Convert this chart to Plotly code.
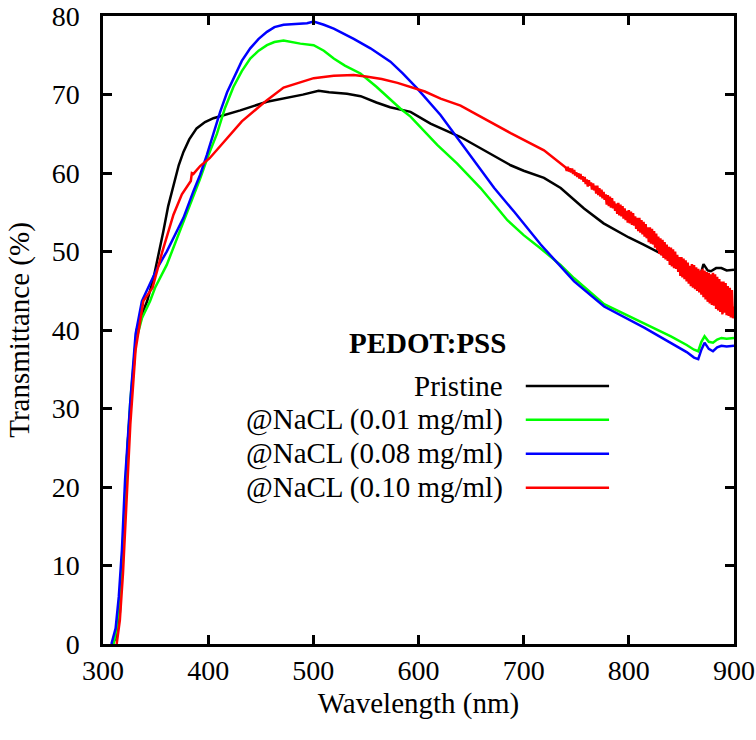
import plotly.graph_objects as go

# ---------------- data ----------------
pristine_x = [309, 313, 316, 318, 321, 323.5, 326, 329, 332, 337, 342, 348, 353, 357.4, 362, 367, 372, 376.5, 382,
              389, 397, 405, 418, 430.5, 455.9, 471, 490, 505, 515, 532, 545, 560, 573, 592.4, 611.4, 640, 659,
              687.6, 700, 719.3, 735.2, 757.4, 776, 800, 814, 840, 855, 864, 868, 871, 875, 878, 883, 888, 893, 900]
pristine_y = [0, 1, 4, 10, 20, 25.5, 30, 35.5, 40, 42, 43.7, 46.6, 49.6, 52.6, 55.8, 58.5, 61.0, 62.7, 64.3,
              65.7, 66.5, 67.0, 67.5, 68.0, 69.1, 69.5, 70.0, 70.5, 70.3, 70.1, 69.8, 69.0, 68.4, 67.8, 66.3, 64.6, 63.2,
              61.0, 60.3, 59.4, 58.1, 55.5, 53.6, 51.8, 50.9, 49.1, 47.8, 46.6, 47.0, 48.4, 47.6, 47.5, 47.9, 47.9, 47.6, 47.7]

nacl001_x = [310, 313, 316, 319, 322, 326, 331, 337, 344.8, 349.5, 360.6, 373.3, 384, 392.4, 400, 408.3, 416,
             424.1, 432, 440, 448, 455.9, 463, 471.7, 487.6, 500.3, 510, 519.4, 530, 544.8, 560, 582.9, 592.4,
             617.8, 636.8, 649.5, 659, 676.5, 684.5, 700, 716.2, 735, 748, 776.5, 795, 814.6, 840, 855, 862, 866, 869,
             872, 876, 880, 884, 888, 893, 900]
nacl001_y = [0, 2, 6, 13, 22, 31, 38.5, 41.5, 43.7, 45.4, 48.3, 52.6, 56.4, 59.3, 62.2, 65.0, 68.3,
             71.0, 73.0, 74.6, 75.6, 76.3, 76.7, 76.9, 76.5, 76.3, 75.6, 74.6, 73.7, 72.7, 71.0, 68.2, 67.2,
             63.6, 61.2, 59.4, 58.1, 55.3, 54.0, 52.1, 50.4, 48.3, 46.6, 43.3, 42.1, 40.9, 39.2, 38.1, 37.5, 37.3, 38.5,
             39.2, 38.5, 38.4, 38.8, 39.0, 38.9, 39.0]

nacl008_x = [308, 312, 315, 318, 321, 326, 331, 337, 345, 352, 360.6, 367, 376.5, 386, 392.4, 398.7, 405, 411.4, 418,
             424.1, 432, 440, 448, 455.9, 463, 471.7, 487.6, 494, 500.3, 510, 519.4, 525.7, 538.4, 554.3, 573.3,
             585, 598.7, 620.9, 633.6, 655.9, 672, 690.8, 716.2, 748, 776.5, 814.6, 840, 855, 862, 866, 869, 872, 876, 880,
             884, 888, 893, 900]
nacl008_y = [0, 2, 6, 12, 21, 31, 39.5, 43.7, 46, 48, 50.0, 51.7, 54.3, 57.7, 59.8, 62.3, 65.0, 67.8, 70.3,
             72.1, 74.3, 75.9, 77.1, 78.0, 78.6, 78.9, 79.0, 79.1, 79.3, 78.9, 78.4, 78.0, 77.1, 75.9, 74.2,
             72.7, 70.8, 67.4, 65.1, 61.0, 58.1, 55.1, 50.9, 46.2, 43.0, 40.3, 38.4, 37.2, 36.5, 36.3, 37.5, 38.4, 37.6, 37.3,
             37.8, 38.0, 37.9, 38.0]

nacl010_x = [313, 316, 319, 322, 326, 331, 338.4, 347.1, 356, 367, 375, 383.5, 384.5, 386, 392.4, 401.4, 410,
             420.2, 432, 446.2, 455.9, 471.7, 487.6, 500.3, 519.4, 538.4, 550, 565, 580, 592.4, 606, 621, 640, 659,
             687.6, 719.3, 730] + list(range(740, 901))
nacl010_y = [0, 3, 9, 18, 28, 37.5, 43.7, 45.4, 49.8, 54.7, 57.3, 59.0, 60.0, 59.9, 60.9, 61.9, 63.2,
             64.8, 66.6, 68.2, 69.3, 70.9, 71.6, 72.1, 72.4, 72.5, 72.3, 72.0, 71.5, 71.0, 70.4, 69.5, 68.6, 67.2,
             65.1, 62.9, 61.8,
             60.7, 60.3, 60.8, 60.2, 60.6, 60.1, 60.6, 59.9, 60.4, 59.7,
             60.1, 59.5, 60.0, 59.3, 59.9, 59.2, 59.6, 58.9, 59.5, 58.6,
             59.2, 58.3, 59.1, 58.4, 58.8, 57.9, 58.7, 57.8, 58.4, 57.4,
             58.4, 57.2, 58.1, 57.0, 57.9, 56.8, 57.6, 56.6, 57.3, 56.0,
             57.2, 55.8, 57.0, 55.6, 56.8, 55.5, 56.4, 55.2, 56.1, 54.8,
             56.2, 54.6, 56.0, 54.5, 55.8, 54.2, 55.5, 54.0, 55.2, 53.7,
             55.3, 53.6, 55.1, 53.4, 54.9, 53.3, 54.5, 52.9, 54.3, 52.6,
             54.3, 52.4, 54.0, 52.2, 53.8, 51.9, 53.5, 51.7, 53.1, 51.2,
             53.1, 51.0, 52.9, 50.9, 52.6, 50.5, 52.3, 50.2, 51.9, 49.7,
             51.7, 49.5, 51.5, 49.2, 51.2, 49.0, 50.9, 48.8, 50.6, 48.3,
             50.5, 48.1, 50.3, 47.9, 50.0, 47.8, 49.6, 47.4, 49.3, 46.9,
             49.3, 46.7, 49.1, 46.5, 48.9, 46.2, 48.6, 45.9, 48.2, 45.6,
             48.4, 45.4, 48.3, 45.2, 48.0, 45.0, 47.8, 44.8, 47.6, 44.5,
             47.8, 44.2, 47.6, 43.9, 47.4, 43.6, 47.3, 43.4, 47.1, 43.2,
             47.3, 43.1, 47.1, 42.7, 46.8, 42.5, 46.5, 42.3, 46.2, 42.0,
             46.2, 42.2, 46.0, 41.9, 45.6, 41.8, 45.4, 41.6, 45.1, 41.5,
             43.0]

series_names = ["Pristine", "@NaCL (0.01 mg/ml)", "@NaCL (0.08 mg/ml)", "@NaCL (0.10 mg/ml)"]
series_colors = ["#000000", "#00ff00", "#0000ff", "#ff0000"]
legend_title = "PEDOT:PSS"
x_ticks = [300, 400, 500, 600, 700, 800, 900]
y_ticks = [0, 10, 20, 30, 40, 50, 60, 70, 80]
x_title = "Wavelength (nm)"
y_title = "Transmittance (%)"

# ---------------- figure ----------------
FONT = "Liberation Serif"
fig = go.Figure()
data = [(pristine_x, pristine_y), (nacl001_x, nacl001_y), (nacl008_x, nacl008_y), (nacl010_x, nacl010_y)]
for (xs, ys), name, col in zip(data, series_names, series_colors):
    fig.add_trace(go.Scatter(x=xs, y=ys, mode="lines", name=name,
                             line=dict(color=col, width=2.5), showlegend=False))

# legend (right-aligned text with the line sample on the right, as in the reference)
leg_text_x = 0.637
leg_line_x0, leg_line_x1 = 0.670, 0.802
leg_rows_y = [0.411, 0.357, 0.303, 0.249]
fig.add_annotation(x=leg_text_x + 0.005, y=0.479, xref="paper", yref="paper", text="<b>" + legend_title + "</b>",
                   showarrow=False, xanchor="right", yanchor="middle",
                   font=dict(family=FONT, size=29, color="black"))
for name, col, yy in zip(series_names, series_colors, leg_rows_y):
    fig.add_annotation(x=leg_text_x, y=yy, xref="paper", yref="paper", text=name,
                       showarrow=False, xanchor="right", yanchor="middle",
                       font=dict(family=FONT, size=29, color="black"))
    fig.add_shape(type="line", xref="paper", yref="paper", x0=leg_line_x0, x1=leg_line_x1, y0=yy, y1=yy,
                  line=dict(color=col, width=2.5))

axis_common = dict(showline=True, linecolor="black", linewidth=2.5, mirror="ticks",
                   ticks="inside", ticklen=9, tickwidth=2.5, tickcolor="black",
                   showgrid=False, zeroline=False, ticklabeloverflow="allow",
                   tickfont=dict(family=FONT, size=28, color="black"))
fig.update_xaxes(range=[300, 900], tickvals=x_ticks, ticklabelstandoff=0,
                 title=dict(text=x_title, font=dict(family=FONT, size=29, color="black"), standoff=8),
                 **axis_common)
fig.update_yaxes(range=[0, 80.02], tickvals=y_ticks, ticklabelstandoff=15,
                 title=dict(text=y_title, font=dict(family=FONT, size=29, color="black"), standoff=14),
                 **axis_common)

fig.update_layout(width=756, height=740, margin=dict(l=103, r=22, t=16, b=96, autoexpand=False),
                  plot_bgcolor="white", paper_bgcolor="white", showlegend=False)
fig.write_html("out.html")
